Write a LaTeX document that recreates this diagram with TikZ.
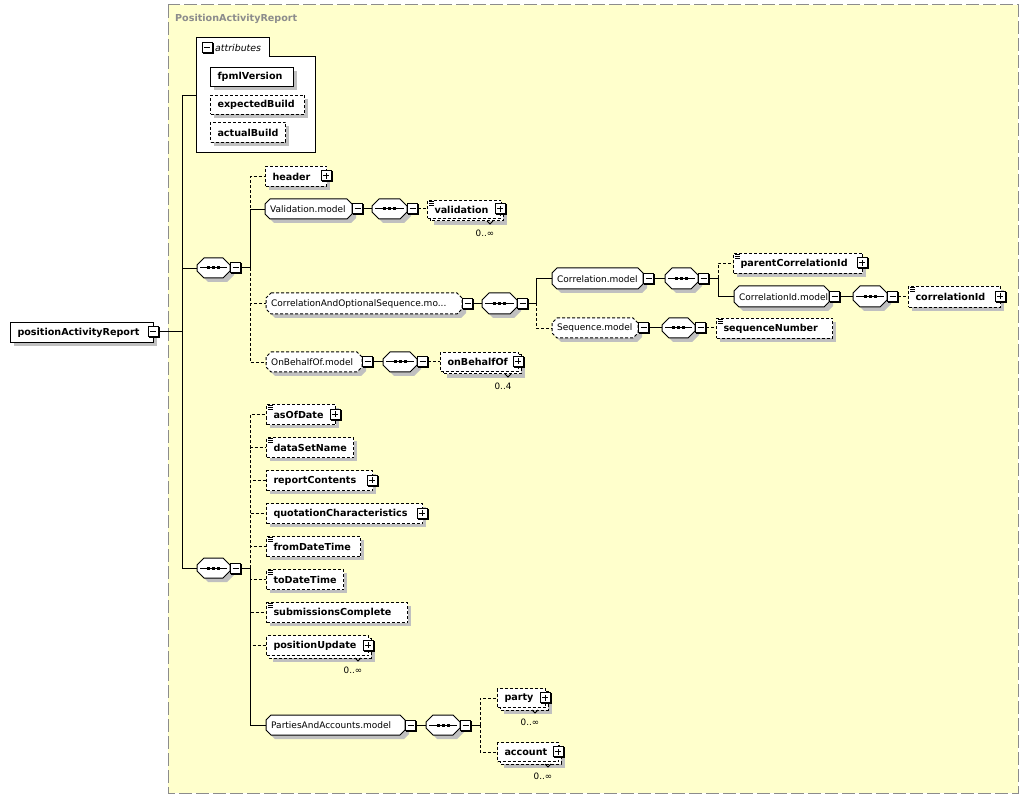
\documentclass[tikz,border=0pt]{standalone}
\usepackage{fontspec}
\setmainfont{DejaVu Sans}
\usetikzlibrary{calc}
\definecolor{bgy}{HTML}{FFFFCC}
\definecolor{shd}{HTML}{C0C0C0}
\definecolor{frm}{HTML}{8C8C8C}
\tikzset{
  ln/.style={line width=1pt},
  dsh/.style={line width=1pt, dash pattern=on 3pt off 2pt},
  elem/.style={draw, line width=1pt, fill=white, inner xsep=7pt, inner ysep=0pt, anchor=north west, align=left, font=\bfseries\fontsize{9.6}{11}\selectfont},
  grp/.style={inner xsep=5pt, inner ysep=0pt, anchor=north west, align=left, font=\fontsize{9}{10}\selectfont},
  box/.style={inner sep=0pt, anchor=north west},
  pmbox/.style={draw, line width=1pt, fill=white, minimum size=10pt, inner sep=0pt},
  mult/.style={font=\fontsize{8.8}{10}\selectfont, inner sep=0pt},
}
% octagon path
\newcommand\octp[6]{\path[#6] ({#1+#5},{#2}) -- ({#3-#5},{#2}) -- ({#3},{#2+#5}) -- ({#3},{#4-#5}) -- ({#3-#5},{#4}) -- ({#1+#5},{#4}) -- ({#1},{#4-#5}) -- ({#1},{#2+#5}) -- cycle;}
% element box: name x1 y1 x2 y2 style text
\newcommand\E[7]{%
  \fill[shd] ({#2+4},{#3+4}) rectangle ({#4+4},{#5+4});
  \pgfmathsetmacro\tw{#4-#2-14}\pgfmathsetmacro\hh{#5-#3}%
  \node[elem,#6,text width=\tw pt,minimum height=\hh pt] (#1) at (#2,#3) {#7};}
% stacked (repeating) element: name x1 y1 x2 y2 text multiplicity
\newcommand\SE[7]{%
  \fill[shd] ({#2+7},{#3+7}) rectangle ({#4+7},{#5+7});
  \draw[dsh,fill=white] ({#2+3},{#3+3}) rectangle ({#4+3},{#5+3});
  \draw[line width=0.8pt] ({#4-13},{#5+3}) -- ({#4-10},{#5+6}) -- ({#4-7},{#5+3});
  \pgfmathsetmacro\tw{#4-#2-14}\pgfmathsetmacro\hh{#5-#3}%
  \node[elem,dsh,text width=\tw pt,minimum height=\hh pt] (#1) at (#2,#3) {#6};
  \node[mult] (#1-n) at ({#4-15},{#5+15}) {#7};}
% simple-content mark
\newcommand\SC[2]{\foreach \k in {0,2,4} \draw[line width=0.7pt] ({#1+2},{#2+1.5+\k}) -- ({#1+7},{#2+1.5+\k});}
% model group: name x1 y1 x2 y2 style text
\newcommand\G[7]{%
  \octp{#2+4}{#3+4}{#4+4}{#5+4}{5}{fill=shd}
  \octp{#2}{#3}{#4}{#5}{5}{draw,fill=white,#6}
  \pgfmathsetmacro\tw{#4-#2-10}\pgfmathsetmacro\hh{#5-#3}%
  \node[grp,text width=\tw pt,minimum height=\hh pt] (#1) at (#2,#3) {#7};}
% compositor: name x1 y1 x2 y2
\newcommand\C[5]{%
  \octp{#2+4}{#3+4}{#4+4}{#5+4}{7}{fill=shd}
  \octp{#2}{#3}{#4}{#5}{7}{draw,line width=1pt,fill=white}
  \pgfmathsetmacro\ww{#4-#2}\pgfmathsetmacro\hh{#5-#3}%
  \node[box,minimum width=\ww pt,minimum height=\hh pt] (#1) at (#2,#3) {};
  \draw[line width=1pt] ({#2+3},{(#3+#5)/2}) -- ({#4-3},{(#3+#5)/2});
  \foreach \d in {-5,0,5} \fill ({(#2+#4)/2+\d-1.5},{(#3+#5)/2-1.5}) rectangle ++(3,3);}
% minus / plus icons: name cx cy
\newcommand\icm[3]{%
  \fill ({#2-4.5},{#3-4.5}) rectangle ({#2+6.5},{#3+6.5});
  \node[pmbox] (#1) at (#2,#3) {};
  \draw[line width=1pt] ({#2-3},{#3}) -- ({#2+3},{#3});}
\newcommand\icp[3]{\icm{#1}{#2}{#3}\draw[line width=1pt] ({#2},{#3-3}) -- ({#2},{#3+3});}

\begin{document}
\begin{tikzpicture}[x=1pt,y=-1pt]
\useasboundingbox (0,0) rectangle (1028,799);
\fill[white] (0,0) rectangle (1028,799);
% outer frame
\draw[frm, line width=1pt, dash pattern=on 13pt off 4pt, fill=bgy] (168,5) rectangle (1018,793);
\node[anchor=west, inner sep=0pt, text=frm, font=\bfseries\fontsize{9.6}{11}\selectfont] (title) at (175,19) {PositionActivityReport};

% root
\E{root}{10}{322}{153}{342}{solid}{positionActivityReport}
\icm{rootm}{153}{332}

% attributes
\draw[line width=1pt, fill=white] (196,38) -- (269,38) -- (269,57) -- (315,57) -- (315,153) -- (196,153) -- cycle;
\node[box, minimum width=119pt, minimum height=115pt] (attr) at (196,38) {};
\icm{attrm}{207}{48}
\node[anchor=west, inner sep=0pt, font=\itshape\fontsize{9.4}{10}\selectfont] (attrt) at (215,48) {attributes};
\E{fpml}{210}{67}{293}{86}{solid}{fpmlVersion}
\E{expb}{210}{95}{304}{114}{dsh}{expectedBuild}
\E{actb}{210}{122}{285}{142}{dsh}{actualBuild}

% first sequence
\C{c1}{197}{258}{230}{278}
\icm{c1m}{235.5}{268}
\E{hdr}{265}{166}{326}{186}{dsh}{header}
\icp{hdrp}{326}{176}

\G{vm}{265}{199}{352}{219}{ln}{Validation.model}
\icm{vmm}{357.5}{209}
\C{cv}{372}{199}{407}{219}
\icm{cvm}{412.5}{209}
\SE{val}{427}{200}{500}{218}{validation}{0..∞}
\SC{427}{200}
\icp{valp}{500}{209}

\G{com}{266}{293}{462}{314}{dsh}{CorrelationAndOptionalSequence.mo...}
\icm{comm}{467.5}{303.5}
\C{cc}{482}{293}{517}{314}
\icm{ccm}{522.5}{303.5}

\G{cm}{552}{268}{643}{289}{ln}{Correlation.model}
\icm{cmm}{648.5}{278.5}
\C{ccc}{665}{268}{698}{289}
\icm{cccm}{703.5}{278.5}
\E{pcid}{733}{253}{862}{273}{dsh}{parentCorrelationId}
\SC{733}{253}
\icp{pcidp}{862}{263}
\G{cim}{734}{286}{829}{307}{ln}{CorrelationId.model}
\icm{cimm}{834.5}{296.5}
\C{cic}{853}{286}{887}{307}
\icm{cicm}{892.5}{296.5}
\E{cid}{908}{286}{1000}{307}{dsh}{correlationId}
\SC{908}{286}
\icp{cidp}{1000}{296.5}

\G{sm}{552}{318}{638}{338}{dsh}{Sequence.model}
\icm{smm}{643.5}{328}
\C{csc}{662}{318}{695}{338}
\icm{cscm}{700.5}{328}
\E{seqn}{716}{318}{832}{338}{dsh}{sequenceNumber}
\SC{716}{318}

\G{obm}{266}{352}{362}{372}{dsh}{OnBehalfOf.model}
\icm{obmm}{367.5}{362}
\C{cbc}{383}{352}{417}{372}
\icm{cbcm}{422.5}{362}
\SE{obo}{440}{352}{518}{371}{onBehalfOf}{0..4}
\icp{obop}{518}{361.5}

% second sequence
\C{c2}{197}{558}{230}{578}
\icm{c2m}{235.5}{568}
\E{aod}{266}{404}{335}{424}{dsh}{asOfDate}
\SC{266}{404}
\icp{aodp}{335}{414}
\E{dsn}{266}{437}{353}{457}{dsh}{dataSetName}
\SC{266}{437}
\E{rpc}{266}{470}{372}{490}{dsh}{reportContents}
\icp{rpcp}{372}{480}
\E{qch}{266}{503}{422}{523}{dsh}{quotationCharacteristics}
\icp{qchp}{422}{513}
\E{fdt}{266}{536}{360}{556}{dsh}{fromDateTime}
\SC{266}{536}
\E{tdt}{266}{569}{343}{589}{dsh}{toDateTime}
\SC{266}{569}
\E{sbc}{266}{602}{407}{622}{dsh}{submissionsComplete}
\SC{266}{602}
\SE{pup}{266}{635}{368}{655}{positionUpdate}{0..∞}
\icp{pupp}{368}{645}

\G{pam}{266}{715}{405}{735}{ln}{PartiesAndAccounts.model}
\icm{pamm}{410.5}{725}
\C{pac}{426}{715}{460}{735}
\icm{pacm}{465.5}{725}
\SE{party}{497}{688}{545}{707}{party}{0..∞}
\icp{partyp}{545}{697.5}
\SE{acct}{497}{742}{558}{761}{account}{0..∞}
\icp{acctp}{558}{751.5}

% junctions
\coordinate (J0) at (182,332);
\coordinate (J1) at (250,268);
\coordinate (J2) at (536,303.5);
\coordinate (J3) at (718,278.5);
\coordinate (J4) at (250,568);
\coordinate (J5) at (480,725);

% connectors
\draw[ln] (rootm.east) -- (J0);
\draw[ln] (J0) |- (attr.west);
\draw[ln] (J0) |- (c1.west);
\draw[ln] (J0) |- (c2.west);

\draw[ln] (c1m.east) -- (J1);
\draw[dsh] (J1) |- (hdr.west);
\draw[dsh] (J1) |- (com.west);
\draw[dsh] (J1) |- (obm.west);
\draw[ln] (J1) |- (vm.west);

\draw[ln] (vmm.east) -- (vmm.east -| cv.west);
\draw[dsh] (cvm.east) -- (cvm.east -| val.west);

\draw[ln] (comm.east) -- (comm.east -| cc.west);
\draw[ln] (ccm.east) -- (J2);
\draw[dsh] (J2) |- (sm.west);
\draw[ln] (J2) |- (cm.west);

\draw[ln] (cmm.east) -- (cmm.east -| ccc.west);
\draw[ln] (cccm.east) -- (J3);
\draw[dsh] (J3) |- (pcid.west);
\draw[ln] (J3) |- (cim.west);
\draw[ln] (cimm.east) -- (cimm.east -| cic.west);
\draw[dsh] (cicm.east) -- (cicm.east -| cid.west);

\draw[ln] (smm.east) -- (smm.east -| csc.west);
\draw[dsh] (cscm.east) -- (cscm.east -| seqn.west);

\draw[ln] (obmm.east) -- (obmm.east -| cbc.west);
\draw[dsh] (cbcm.east) -- (cbcm.east -| obo.west);

\draw[ln] (c2m.east) -- (J4);
\draw[dsh] (J4) |- (aod.west);
\draw[dsh] (J4) |- (dsn.west);
\draw[dsh] (J4) |- (rpc.west);
\draw[dsh] (J4) |- (qch.west);
\draw[dsh] (J4) |- (fdt.west);
\draw[dsh] (J4) |- (tdt.west);
\draw[dsh] (J4) |- (sbc.west);
\draw[dsh] (J4) |- (pup.west);
\draw[ln] (J4) |- (pam.west);

\draw[ln] (pamm.east) -- (pamm.east -| pac.west);
\draw[ln] (pacm.east) -- (J5);
\draw[dsh] (J5) |- (party.west);
\draw[dsh] (J5) |- (acct.west);
\end{tikzpicture}
\end{document}
